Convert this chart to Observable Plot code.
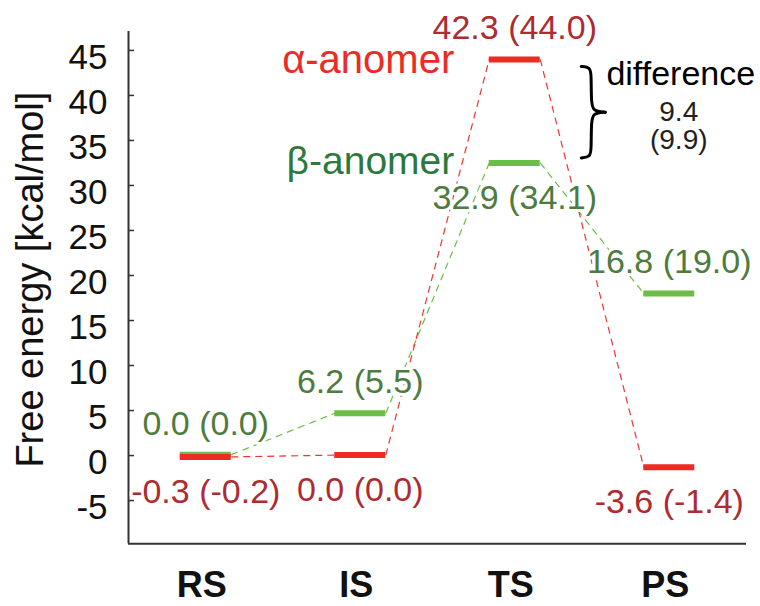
<!DOCTYPE html>
<html><head><meta charset="utf-8">
<script src="https://cdn.jsdelivr.net/npm/d3@7"></script>
<script src="https://cdn.jsdelivr.net/npm/@observablehq/plot@0.6"></script>
<style>html,body{margin:0;padding:0;background:#fff;} svg{display:block}</style>
</head><body><div id="chart"></div>
<script>
// ---- data ----
const stages = ["RS", "IS", "TS", "PS"];
const alphaLevels = [-0.15, 0.05, 44.0, -1.3];   // drawn level of α-anomer bars
const betaLevels  = [0.1, 4.7, 32.5, 18.0];      // drawn level of β-anomer bars
const alphaLabels = ["-0.3 (-0.2)", "0.0 (0.0)", "42.3 (44.0)", "-3.6 (-1.4)"];
const betaLabels  = ["0.0 (0.0)", "6.2 (5.5)", "32.9 (34.1)", "16.8 (19.0)"];
const seriesNames = ["α-anomer", "β-anomer"];
const differenceTitle = "difference";
const differenceValues = ["9.4", "(9.9)"];
const yTicks = [-5, 0, 5, 10, 15, 20, 25, 30, 35, 40, 45];
const yTitle = "Free energy [kcal/mol]";

// ---- layout ----
const W = 760, H = 606, mL = 128, mR = 14, mT = 31, mB = 62.7;
const xDom = [-0.5, 3.5], yDom = [-9.8, 47.1];
const ux = (xDom[1] - xDom[0]) / (W - mL - mR); // data units per px (x)
const uy = (yDom[1] - yDom[0]) / (H - mT - mB); // data units per px (y)
const hw = 25.5 * ux;

const C = {
  alphaBar: "#ee2a24", betaBar: "#6cbd45",
  alphaText: "#ae2b31", betaText: "#4e7b3e",
  alphaName: "#ee2a24", betaName: "#2b7a3c",
  alphaDash: "#ee3535", betaDash: "#6cbd45",
  axis: "#333333"
};

const series = [
  {levels: alphaLevels, labels: alphaLabels, other: betaLevels, bar: C.alphaBar, text: C.alphaText, dash: C.alphaDash},
  {levels: betaLevels, labels: betaLabels, other: alphaLevels, bar: C.betaBar, text: C.betaText, dash: C.betaDash}
];

const bars = [], links = [], above = [], below = [];
series.forEach((s, k) => {
  s.levels.forEach((v, i) => {
    bars.push({k, i, y: v, color: s.bar});
    const row = {i, y: v, label: s.labels[i], color: s.text};
    (v > s.other[i] ? above : below).push(row);
    if (i < s.levels.length - 1)
      links.push({k, x1: i + hw, y1: v, x2: i + 1 - hw, y2: s.levels[i + 1], color: s.dash});
  });
});

// brace between TS levels
const bx = 2 + hw + 41 * ux;
const bTop = alphaLevels[2] - 7 * uy, bBot = betaLevels[2] + 5 * uy, bMid = (bTop + bBot) / 2;
const braceTop = [
  [0, bTop], [9, bTop - 1 * uy], [10, bTop - 8 * uy], [10, bMid + 9 * uy], [12, bMid + 1 * uy], [24, bMid]
].map(([px, y]) => ({x: bx + px * ux, y, part: "top"}));
const braceBot = [
  [24, bMid], [12, bMid - 1 * uy], [10, bMid - 9 * uy], [10, bBot + 8 * uy], [9, bBot + 1 * uy], [0, bBot]
].map(([px, y]) => ({x: bx + px * ux, y, part: "bot"}));

const halo = {stroke: "white", strokeWidth: 6, paintOrder: "stroke"};

const plot = Plot.plot({
  width: W, height: H,
  marginLeft: mL, marginRight: mR, marginTop: mT, marginBottom: mB,
  x: {domain: xDom, axis: null},
  y: {domain: yDom, axis: null},
  style: {fontFamily: "'Liberation Sans', Arial, sans-serif", background: "white", overflow: "visible"},
  marks: [
    // axes
    Plot.ruleX([xDom[0]], {stroke: C.axis, strokeWidth: 2}),
    Plot.ruleY([yDom[0]], {stroke: C.axis, strokeWidth: 2}),
    Plot.ruleY(yTicks, {y: d => d, x1: xDom[0], x2: xDom[0] + 6 * ux, stroke: C.axis, strokeWidth: 1.5}),
    Plot.text(yTicks, {y: d => d, frameAnchor: "left", text: d => String(d), textAnchor: "end", lineAnchor: "middle", dx: -21, dy: 7, fontSize: 35, fill: "#111"}),
    Plot.text([yTitle], {frameAnchor: "left", text: d => d, rotate: -90, textAnchor: "middle", lineAnchor: "middle", dx: -98, dy: -8, fontSize: 38, fill: "#111"}),
    Plot.text(stages, {x: (d, i) => i, frameAnchor: "bottom", text: d => d, textAnchor: "middle", lineAnchor: "middle", dy: 42, dx: -4, fontSize: 36, fontWeight: "bold", fill: "#111"}),
    // connectors
    Plot.link(links.filter(d => d.k === 1), {x1: "x1", y1: "y1", x2: "x2", y2: "y2", stroke: "color", strokeWidth: 1.2, strokeDasharray: "7,5"}),
    Plot.link(links.filter(d => d.k === 0), {x1: "x1", y1: "y1", x2: "x2", y2: "y2", stroke: "color", strokeWidth: 1.2, strokeDasharray: "7,5"}),
    // levels
    Plot.ruleY(bars.filter(d => d.k === 1), {y: "y", x1: d => d.i - hw, x2: d => d.i + hw, stroke: "color", strokeWidth: 6}),
    Plot.ruleY(bars.filter(d => d.k === 0), {y: "y", x1: d => d.i - hw, x2: d => d.i + hw, stroke: "color", strokeWidth: 6}),
    // value labels
    Plot.text(above, {x: "i", y: "y", text: "label", fill: "color", dy: -31, fontSize: 34, ...halo}),
    Plot.text(below, {x: "i", y: "y", text: "label", fill: "color", dy: 35, fontSize: 34, ...halo}),
    // series names
    Plot.text([seriesNames[0]], {x: () => 2 - hw, y: () => alphaLevels[2], text: d => d, textAnchor: "end", dx: -35, dy: 1, fontSize: 40, fill: C.alphaName}),
    Plot.text([seriesNames[1]], {x: () => 2 - hw, y: () => betaLevels[2], text: d => d, textAnchor: "end", dx: -35, dy: -1, fontSize: 39, fill: C.betaName}),
    // brace + difference
    Plot.line(braceTop, {x: "x", y: "y", curve: "basis", stroke: "#000", strokeWidth: 3}),
    Plot.line(braceBot, {x: "x", y: "y", curve: "basis", stroke: "#000", strokeWidth: 3}),
    Plot.text([differenceTitle], {x: () => 2, y: () => bMid, text: d => d, dx: 166, dy: -38, fontSize: 34, fill: "#000"}),
    Plot.text([differenceValues[0]], {x: () => 2, y: () => bMid, text: d => d, dx: 164, dy: 0, fontSize: 28, fill: "#231f20"}),
    Plot.text([differenceValues[1]], {x: () => 2, y: () => bMid, text: d => d, dx: 164, dy: 28, fontSize: 28, fill: "#231f20"})
  ]
});
document.getElementById("chart").appendChild(plot);
</script>
</body></html>
